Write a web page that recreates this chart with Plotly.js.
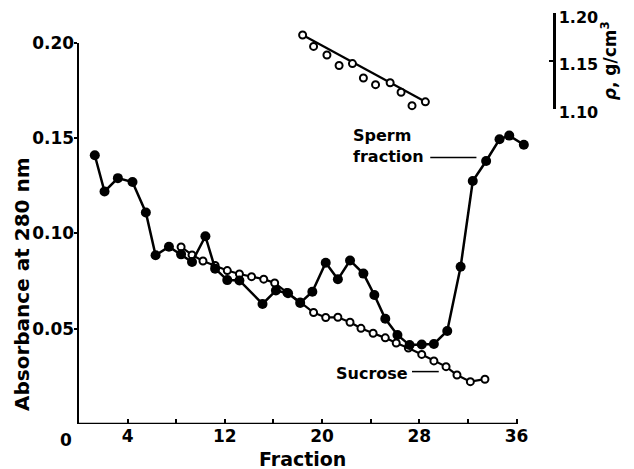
<!DOCTYPE html>
<html>
<head>
<meta charset="utf-8">
<script src="https://cdn.plot.ly/plotly-3.0.1.min.js"></script>
<style>html,body{margin:0;padding:0;background:#fff;}#chart{width:634px;height:469px;}</style>
</head>
<body>
<div id="chart"></div>
<script>
// Absorbance at 280 nm (filled circles)
const absFraction = [1.3,2.1,3.2,4.4,5.5,6.3,7.4,8.4,9.3,10.4,11.2,12.2,13.2,15.1,16.2,17.2,18.2,19.2,20.3,21.3,22.3,23.4,24.3,25.2,26.2,27.2,28.2,29.2,30.3,31.4,32.4,33.5,34.6,35.4,36.6];
const absValue = [0.141,0.122,0.129,0.127,0.111,0.0885,0.093,0.089,0.085,0.0985,0.0815,0.0755,0.0753,0.063,0.070,0.0686,0.0635,0.0694,0.0846,0.0759,0.0858,0.0789,0.0677,0.0552,0.0467,0.0414,0.0417,0.042,0.0488,0.0825,0.1275,0.138,0.1494,0.1513,0.1465];
// Sucrose (open circles, lower)
const sucFraction = [8.4,9.3,10.2,11.2,12.2,13.2,14.2,15.2,16.1,17.1,18.2,19.3,20.3,21.3,22.3,23.2,24.2,25.2,26.1,27.1,28.2,29.2,30.2,31.1,32.2,33.4];
const sucValue = [0.0929,0.0887,0.0855,0.0832,0.0805,0.0787,0.0773,0.076,0.074,0.069,0.064,0.0585,0.0559,0.056,0.0534,0.0502,0.0476,0.0452,0.0425,0.0399,0.0365,0.0331,0.0301,0.0257,0.0222,0.0235];
// Density rho, g/cm3 (open circles, upper)
const densFraction = [18.4,19.3,20.4,21.4,22.5,23.4,24.4,25.6,26.5,27.4,28.5];
const densValue = [1.177,1.165,1.156,1.145,1.147,1.132,1.125,1.127,1.117,1.103,1.107];
// Axis ticks
const xTickVals = [4,12,20,28,36];
const xTickText = ['4','12','20','28','36'];
const xMinorTickVals = [8,16,24,32];
const yTickVals = [0.05,0.10,0.15,0.20];
const yTickText = ['0.05','0.10','0.15','0.20'];
const y2TickVals = [1.10,1.15,1.20];
const y2TickText = ['1.10','1.15','1.20'];

const FONT = 'DejaVu Sans, Verdana, sans-serif';
const nD = densFraction.length;

const traces = [
  {x: sucFraction, y: sucValue, xaxis:'x', yaxis:'y', mode:'lines+markers', cliponaxis:false,
   line:{color:'#000', width:2.2},
   marker:{symbol:'circle', size:7, color:'#fff', line:{color:'#000', width:2}}},
  {x: absFraction, y: absValue, xaxis:'x', yaxis:'y', mode:'lines+markers', cliponaxis:false,
   line:{color:'#000', width:2.5},
   marker:{symbol:'circle', size:10, color:'#000'}},
  {x: [densFraction[0], densFraction[nD-1]], y: [densValue[0], densValue[nD-1]], xaxis:'x', yaxis:'y2',
   mode:'lines', cliponaxis:false, line:{color:'#000', width:2.2}},
  {x: densFraction, y: densValue, xaxis:'x', yaxis:'y2', mode:'markers', cliponaxis:false,
   marker:{symbol:'circle', size:7, color:'#fff', line:{color:'#000', width:2}}}
];

const layout = {
  width:634, height:469,
  margin:{l:79, r:81, t:13, b:45},
  paper_bgcolor:'#fff', plot_bgcolor:'rgba(0,0,0,0)',
  showlegend:false,
  font:{family:FONT, color:'#000', size:16},
  xaxis:{range:[0,39], showline:false, zeroline:false, showgrid:false,
    tickmode:'array', tickvals:xTickVals, ticktext:xTickText,
    ticks:'inside', ticklen:5, tickwidth:2, tickcolor:'#000',
    minor:{tickmode:'array', tickvals:xMinorTickVals, ticks:'inside', ticklen:5, tickwidth:2, tickcolor:'#000', showgrid:false},
    tickfont:{family:FONT, size:17, weight:'bold'}},
  yaxis:{domain:[0,0.9275], range:[0,0.2], showline:true, linecolor:'#000', linewidth:2.5,
    zeroline:false, showgrid:false, tickmode:'array', tickvals:yTickVals, ticktext:yTickText,
    ticks:'outside', ticklen:3, tickwidth:2, tickcolor:'#000', ticklabelstandoff:-4,
    tickfont:{family:FONT, size:17, weight:'bold'}},
  yaxis2:{domain:[0.7676,1], range:[1.10,1.20], anchor:'x', side:'right',
    showline:true, linecolor:'#000', linewidth:2.5, zeroline:false, showgrid:false,
    tickmode:'array', tickvals:y2TickVals, ticktext:y2TickText,
    ticks:'inside', ticklen:4, tickwidth:2, tickcolor:'#000', ticklabelshift:4,
    tickfont:{family:FONT, size:16, weight:'bold'},
    title:{text:'<i>ρ</i>, g/cm<sup>3</sup>', font:{family:FONT, size:17, weight:'bold'}, standoff:6}},
  shapes:[
    {type:'line', xref:'x', yref:'y', x0:0, x1:36, y0:0, y1:0, line:{color:'#000', width:2.5}},
    {type:'line', xref:'x', yref:'y', x0:28.9, x1:32.7, y0:0.1398, y1:0.1398, line:{color:'#000', width:1.5}},
    {type:'line', xref:'x', yref:'y', x0:27.4, x1:29.6, y0:0.0275, y1:0.0275, line:{color:'#000', width:1.5}}
  ],
  annotations:[
    {xref:'paper', yref:'y', x:-0.12, y:0.0735, text:'Absorbance at 280 nm', textangle:-90, showarrow:false,
     xanchor:'center', yanchor:'middle', font:{family:FONT, size:20, weight:'bold'}},
    {xref:'x', yref:'paper', x:18.4, y:-0.085, text:'Fraction', showarrow:false,
     xanchor:'center', yanchor:'middle', font:{family:FONT, size:19, weight:'bold'}},
    {xref:'x', yref:'y', x:0, y:0, text:'0', showarrow:false, xanchor:'right', yanchor:'top',
     xshift:-5, yshift:-4, font:{family:FONT, size:17, weight:'bold'}},
    {xref:'x', yref:'y', x:22.4, y:0.146, text:'Sperm<br>fraction', showarrow:false, align:'left',
     xanchor:'left', yanchor:'middle', font:{family:FONT, size:16, weight:'bold'}},
    {xref:'x', yref:'y', x:21.0, y:0.0265, text:'Sucrose', showarrow:false,
     xanchor:'left', yanchor:'middle', font:{family:FONT, size:16, weight:'bold'}}
  ]
};

Plotly.newPlot('chart', traces, layout, {staticPlot:true, displayModeBar:false});
</script>
</body>
</html>
